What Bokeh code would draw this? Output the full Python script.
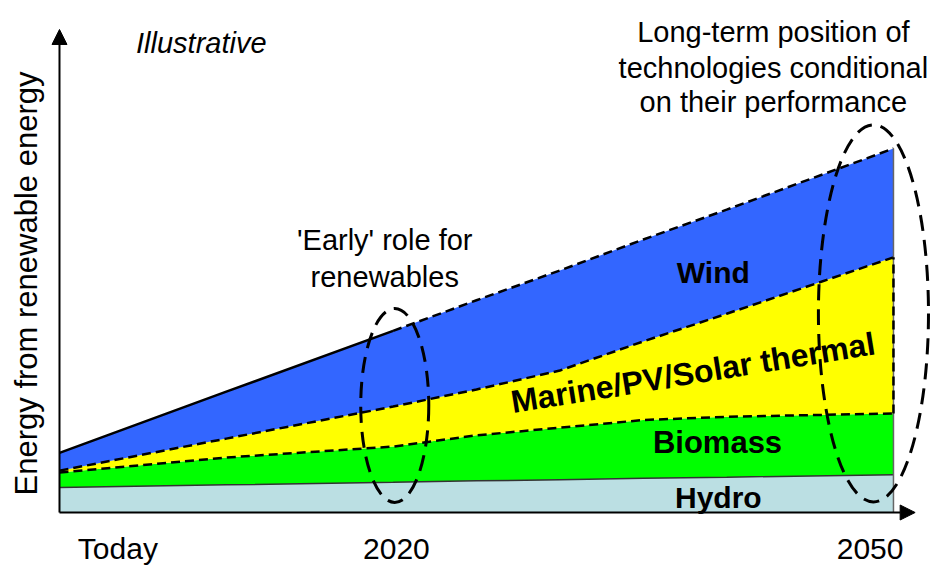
import numpy as np
from bokeh.plotting import figure
from bokeh.models import Range1d, FixedTicker, Arrow, NormalHead, Label, ColumnDataSource
from bokeh.core.properties import value
from bokeh.embed import file_html
from bokeh.resources import INLINE

# ---- data (arbitrary energy units) ----
years = [2000, 2010, 2020, 2025, 2030, 2035, 2040, 2050]
hydro = [6.9, 7.6, 8.3, 8.7, 9.0, 9.4, 9.7, 10.4]
biomass = [4.1, 7.5, 9.8, 12.5, 14.3, 16.0, 16.6, 16.8]
marine = [0.5, 5.2, 11.0, 12.6, 15.7, 21.6, 28.3, 42.9]
wind = [4.9, 12.9, 20.8, 24.5, 27.5, 28.0, 28.6, 29.9]

tick_positions = [2003.5, 2020.2, 2048.6]
tick_labels = ["Today", "2020", "2050"]

series_names = ["Hydro", "Biomass", "Marine/PV/Solar thermal", "Wind"]
note_lines = ["Long-term position of", "technologies conditional", "on their performance"]
early_lines = ["'Early' role for", "renewables"]
y_title = "Energy from renewable energy"
tag = "Illustrative"

FONT = "Liberation Sans"

src = ColumnDataSource(dict(x=years, hydro=hydro, biomass=biomass, marine=marine, wind=wind))
c1 = np.array(hydro)
c2 = c1 + np.array(biomass)
c3 = c2 + np.array(marine)
c4 = c3 + np.array(wind)

p = figure(width=938, height=568, output_backend="svg", toolbar_location=None,
           x_range=Range1d(1999.161, 2052.70), y_range=Range1d(-14.835, 140.66),
           min_border_left=45, min_border_right=0, min_border_top=0, min_border_bottom=2)
p.outline_line_color = None
p.grid.visible = False
p.background_fill_color = "white"

# stacked areas
p.varea_stack(stackers=["hydro", "biomass", "marine", "wind"], x="x", source=src,
              color=["#BBDFE3", "#00FF00", "#FFFF00", "#3366FF"])

DASH = "9 5"
p.line(years, c1, line_color="#333333", line_width=1.5)
p.line(years, c2, line_color="black", line_width=2.5, line_dash=DASH)
p.line(years, c3, line_color="black", line_width=2.5, line_dash=DASH)
p.line(years[:3], c4[:3], line_color="black", line_width=2.5)
p.line(years[2:], c4[2:], line_color="black", line_width=2.5, line_dash=DASH)
p.segment(x0=[years[-1]], y0=[0], x1=[years[-1]], y1=[c4[-1]], line_color="#666666", line_width=1.5)
p.segment(x0=[years[-1]], y0=[c2[-1]], x1=[years[-1]], y1=[c3[-1]], line_color="black",
          line_width=2.5, line_dash=DASH)

# highlight ellipses
p.ellipse(x=[2020.1, 2048.8], y=[29.4, 54.7], width=[4.08, 6.6], height=[53.3, 103.6],
          fill_color=None, line_color="black", line_width=3, line_dash="16 9")

# series labels
p.text(x=[2039.2], y=[65.9], text=[series_names[3]],
       text_font=value(FONT), text_font_style="bold", text_font_size="30px",
       text_align="center", text_baseline="alphabetic", text_color="black")
p.text(x=[2039.45], y=[19.2], text=[series_names[1]],
       text_font=value(FONT), text_font_style="bold", text_font_size="31px",
       text_align="center", text_baseline="alphabetic", text_color="black")
p.text(x=[2039.5], y=[4.1], text=[series_names[0]],
       text_font=value(FONT), text_font_style="bold", text_font_size="30px",
       text_align="center", text_baseline="alphabetic", text_color="black")
p.text(x=[2037.98], y=[38.4], text=[series_names[2]], angle=0.161,
       text_font=value(FONT), text_font_style="bold", text_font_size="32px",
       text_align="center", text_baseline="alphabetic", text_color="black")

# annotation texts
for line, yy in zip(note_lines, [132.1, 122.2, 112.9]):
    p.add_layout(Label(x=2042.8, y=yy, text=line, text_font=FONT, text_font_size="29px",
                       text_align="center", text_baseline="alphabetic", text_color="black"))
for line, yy in zip(early_lines, [75.0, 64.8]):
    p.add_layout(Label(x=2019.5, y=yy, text=line, text_font=FONT, text_font_size="29px",
                       text_align="center", text_baseline="alphabetic", text_color="black"))
p.add_layout(Label(x=2008.5, y=129.1, text=tag, text_font=FONT, text_font_size="29px",
                   text_font_style="italic", text_align="center", text_baseline="alphabetic",
                   text_color="black"))

# axes
xa = p.xaxis[0]
xa.fixed_location = 0
xa.ticker = FixedTicker(ticks=tick_positions)
xa.major_label_overrides = {t: l for t, l in zip(tick_positions, tick_labels)}
xa.major_label_text_font = FONT
xa.major_label_text_font_size = "30px"
xa.major_label_text_color = "black"
xa.major_label_standoff = 19
xa.major_tick_out = 0
xa.major_tick_in = 0
xa.minor_tick_out = 0
xa.minor_tick_in = 0
xa.axis_line_color = None

ya = p.yaxis[0]
ya.ticker = FixedTicker(ticks=[])
ya.major_tick_out = 0
ya.major_tick_in = 0
ya.minor_tick_out = 0
ya.minor_tick_in = 0
ya.axis_line_color = None
ya.axis_label = y_title
ya.axis_label_text_font = FONT
ya.axis_label_text_font_size = "31px"
ya.axis_label_text_font_style = "normal"
ya.axis_label_text_color = "black"
ya.axis_label_standoff = 2

# axis arrows
p.add_layout(Arrow(end=NormalHead(size=15, fill_color="black", line_color="black"),
                   x_start=2000, y_start=0, x_end=2051.3, y_end=0,
                   line_width=2, line_color="black"))
p.add_layout(Arrow(end=NormalHead(size=15, fill_color="black", line_color="black"),
                   x_start=2000, y_start=0, x_end=2000, y_end=132.7,
                   line_width=2, line_color="black"))

open("out.html", "w").write(file_html(p, INLINE))
